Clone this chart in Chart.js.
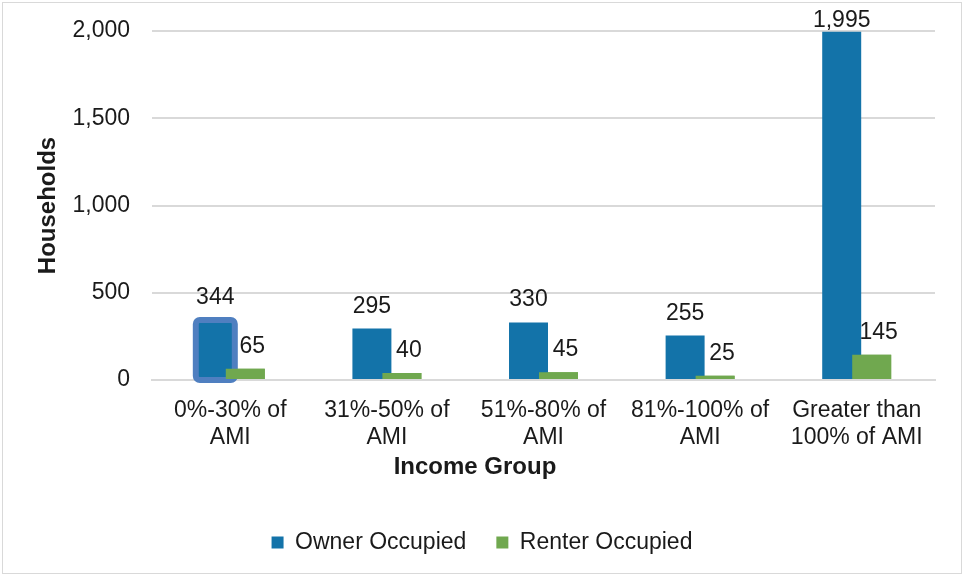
<!DOCTYPE html>
<html>
<head>
<meta charset="utf-8">
<script src="https://cdn.jsdelivr.net/npm/chart.js@4.4.1/dist/chart.umd.min.js"></script>
<style>
  html, body { margin: 0; padding: 0; background: #fff; }
  #wrap { width: 964px; height: 576px; }
</style>
</head>
<body>
<div id="wrap"><canvas id="chart" width="964" height="576"></canvas></div>
<script>
// --- data ---
const categories = [
    ['0%-30% of', 'AMI'],
    ['31%-50% of', 'AMI'],
    ['51%-80% of', 'AMI'],
    ['81%-100% of', 'AMI'],
    ['Greater than', '100% of AMI']
];
const ownerOccupied = [344, 295, 330, 255, 1995];
const renterOccupied = [65, 40, 45, 25, 145];
const yTicks = [0, 500, 1000, 1500, 2000];

const FONT = "'Liberation Sans', Arial, sans-serif";
const TEXT = '#1a1a1a';
const GRID = '#d9d9d9';

// white background + thin frame round the whole chart
const frame = {
    id: 'frame',
    beforeDraw: (chart) => {
        const ctx = chart.ctx;
        ctx.save();
        ctx.fillStyle = '#fff';
        ctx.fillRect(0, 0, chart.width, chart.height);
        ctx.strokeStyle = GRID;
        ctx.lineWidth = 1;
        ctx.strokeRect(2.5, 2.5, chart.width - 5, chart.height - 5);
        ctx.restore();
    }
};

// selection outline on the first owner bar
const selection = {
    id: 'selection',
    afterDatasetDraw: (chart, args) => {
        if (args.index !== 0) return;
        const bar = args.meta.data[0];
        if (!bar) return;
        const ctx = chart.ctx;
        const w = bar.width;
        const x0 = bar.x - w / 2, y0 = bar.y, h = bar.base - bar.y;
        ctx.save();
        ctx.strokeStyle = '#4f7fc0';
        ctx.lineWidth = 6;
        ctx.beginPath();
        ctx.roundRect(x0, y0, w, h + 1, 4);
        ctx.stroke();
        ctx.restore();
    }
};

// renter bars overlap the owner bars (chart.js paints dataset 0 last, so repaint them)
// then value labels above bars + x axis title
const labels = {
    id: 'labels',
    afterDatasetsDraw: (chart) => {
        const ctx = chart.ctx;
        const area = chart.chartArea;
        chart.getDatasetMeta(1).data.forEach(bar => bar.draw(ctx, area));

        ctx.save();
        ctx.fillStyle = TEXT;
        ctx.font = `23px ${FONT}`;
        ctx.textAlign = 'center';
        ctx.textBaseline = 'alphabetic';
        chart.data.datasets.forEach((ds, di) => {
            const meta = chart.getDatasetMeta(di);
            const shift = di === 1 ? 7 : 0;
            meta.data.forEach((bar, i) => {
                const y = Math.max(bar.y - 16, area.top - 4);
                ctx.fillText(ds.data[i].toLocaleString('en-US'), bar.x + shift, y);
            });
        });
        ctx.font = `bold 24px ${FONT}`;
        ctx.textBaseline = 'middle';
        ctx.fillText('Income Group', 475, 467);
        ctx.restore();
    }
};

new Chart(document.getElementById('chart'), {
    type: 'bar',
    data: {
        labels: categories,
        datasets: [
            {
                label: 'Owner Occupied',
                data: ownerOccupied,
                backgroundColor: '#1373a9',
                categoryPercentage: 0.383,
                barPercentage: 1.3
            },
            {
                label: 'Renter Occupied',
                data: renterOccupied,
                backgroundColor: '#70a84f',
                categoryPercentage: 0.383,
                barPercentage: 1.3
            }
        ]
    },
    options: {
        responsive: false,
        animation: false,
        devicePixelRatio: 1,
        layout: { padding: { top: 31, right: 0, bottom: 12, left: 0 } },
        plugins: {
            tooltip: { enabled: false },
            legend: {
                position: 'bottom',
                labels: {
                    color: TEXT,
                    font: { family: FONT, size: 23 },
                    boxWidth: 12,
                    boxHeight: 12,
                    padding: 30
                }
            }
        },
        scales: {
            x: {
                grid: { display: false, drawTicks: false },
                border: { display: true, color: GRID, width: 2 },
                ticks: {
                    color: TEXT,
                    font: { family: FONT, size: 23, lineHeight: 1.17 },
                    padding: 17,
                    maxRotation: 0,
                    autoSkip: false
                },
                afterFit: (scale) => { scale.height = 121; }
            },
            y: {
                min: 0,
                max: 2000,
                grid: { color: GRID, lineWidth: 2, drawTicks: false },
                border: { display: false },
                afterBuildTicks: (scale) => { scale.ticks = yTicks.map(v => ({ value: v })); },
                ticks: {
                    color: TEXT,
                    font: { family: FONT, size: 23 },
                    padding: 22,
                    callback: (v) => v.toLocaleString('en-US')
                },
                title: {
                    display: true,
                    text: 'Households',
                    color: TEXT,
                    font: { family: FONT, size: 24, weight: 'bold' },
                    padding: { top: 34, bottom: 0 }
                },
                afterFit: (scale) => {
                    scale.width = 152;
                    // tick padding would otherwise push the plot top down
                    scale.paddingTop = 0;
                    scale.paddingBottom = 0;
                }
            },
            // empty right margin so the legend centres on the full width
            yRight: {
                position: 'right',
                grid: { display: false, drawTicks: false },
                border: { display: false },
                ticks: { display: false },
                afterFit: (scale) => { scale.width = 29; }
            }
        }
    },
    plugins: [frame, selection, labels]
});
</script>
</body>
</html>
